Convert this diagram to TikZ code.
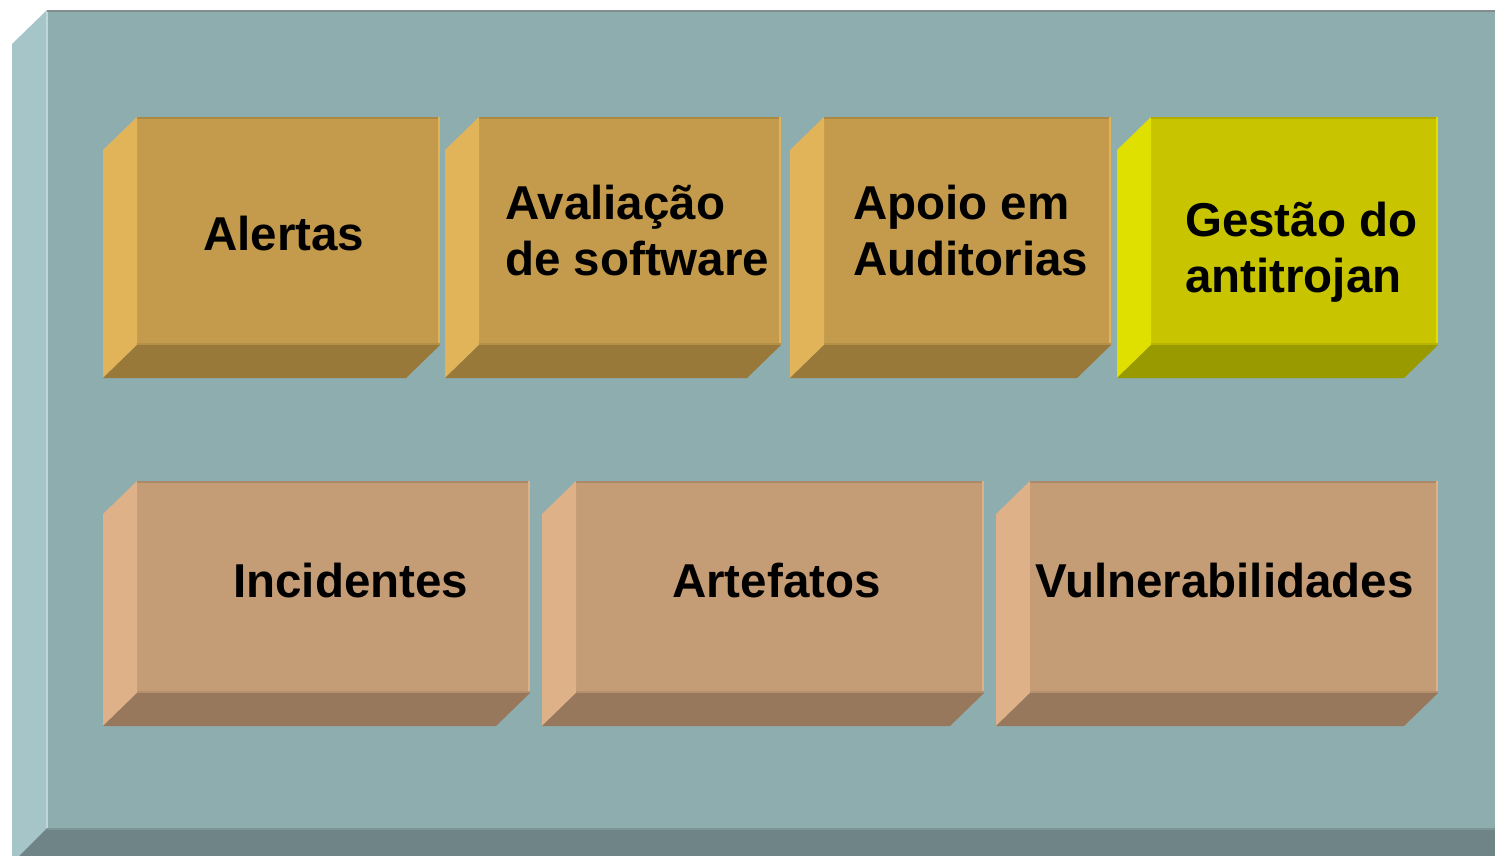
\documentclass[tikz,border=0pt]{standalone}
\usepackage{fontspec}
\setmainfont{Liberation Sans}
\usepackage{tikz}
\definecolor{painelA}{HTML}{8EADAF}
\definecolor{painelB}{HTML}{A6C5C8}
\definecolor{painelC}{HTML}{6E8486}
\definecolor{laranjaA}{HTML}{C49B4C}
\definecolor{laranjaB}{HTML}{E2B45A}
\definecolor{laranjaC}{HTML}{98793A}
\definecolor{amareloA}{HTML}{C8C400}
\definecolor{amareloB}{HTML}{E0E000}
\definecolor{amareloC}{HTML}{999900}
\definecolor{bejeA}{HTML}{C49C76}
\definecolor{bejeB}{HTML}{DFB188}
\definecolor{bejeC}{HTML}{98785C}
\tikzset{
	rotulo/.style={inner sep=0pt, anchor=base west, align=left,
		font=\fontsize{47.5pt}{56pt}\selectfont\bfseries}
}

\begin{document}
\begin{tikzpicture}[x=1pt,y=-1pt]
\useasboundingbox (0,0) rectangle (1495,855);
\clip (0,0) rectangle (1495,855);
\fill[painelA] (47,10) rectangle (1540,828);
\fill[painelB] (12,44) -- (47,10) -- (47,828) -- (12,863) -- cycle;
\fill[painelC] (47,828) -- (1540,828) -- (1505,863) -- (12,863) -- cycle;
\draw[line width=2pt, painelB!70!white] (47,10) -- (47,828);
\draw[line width=2pt, gray!70!painelA] (47,11) -- (1540,11);
\draw[line width=2pt, painelC!60!painelA] (47,829) -- (1540,829);

\foreach \xa/\xb/\ya/\yb/\cor in {137/440/117/345/laranja, 479/781/117/345/laranja,
		824/1111/117/345/laranja, 1151/1438/117/345/amarelo,
		137/530/481/693/beje, 576/984/481/693/beje, 1030/1438/481/693/beje} {
	\fill[\cor A] (\xa,\ya) rectangle (\xb,\yb);
	\fill[\cor B] (\xa-34,\ya+33) -- (\xa,\ya) -- (\xa,\yb) -- (\xa-34,\yb+33) -- cycle;
	\fill[\cor C] (\xa,\yb) -- (\xb,\yb) -- (\xb-34,\yb+33) -- (\xa-34,\yb+33) -- cycle;
	\draw[line width=2pt, \cor A!88!black] (\xa,\ya+1) -- (\xb,\ya+1);
	\draw[line width=2pt, \cor B] (\xb-1,\ya) -- (\xb-1,\yb);
	\draw[line width=2pt, \cor A!92!black] (\xa,\yb-1) -- (\xb,\yb-1);
}

\node[rotulo] (alertas) at (203,250) {Alertas};
\node[rotulo] (avaliacao) at (505,275) {Avaliação\\de software};
\node[rotulo] (apoio) at (853,275) {Apoio em\\Auditorias};
\node[rotulo] (gestao) at (1185,292) {Gestão do\\antitrojan};
\node[rotulo] (incidentes) at (233,597) {Incidentes};
\node[rotulo] (artefatos) at (672,597) {Artefatos};
\node[rotulo] (vulnerab) at (1035,597) {Vulnerabilidades};
\end{tikzpicture}
\end{document}
